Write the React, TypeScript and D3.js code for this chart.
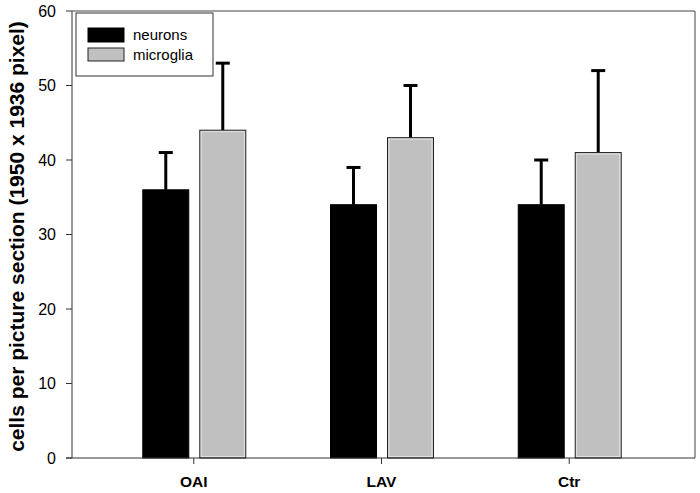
import React from "react";
import * as d3 from "d3";

const categories = ["OAI", "LAV", "Ctr"];
const neurons = [36, 34, 34];
const neuronsErr = [41, 39, 40];
const microglia = [44, 43, 41];
const microgliaErr = [53, 50, 52];
const yTicks = [0, 10, 20, 30, 40, 50, 60];
const seriesNames = ["neurons", "microglia"];

const W = 700, H = 493;
const left = 72, right = 695, top = 11, bottom = 458;

export default function App() {
  const x = d3.scalePoint<string>().domain(categories).range([left - 4, right]).padding(0.67);
  const y = d3.scaleLinear().domain([0, 60]).range([bottom, top]);
  const bw = 46;
  const font = "Arial, 'Liberation Sans', sans-serif";
  const series = [
    { name: seriesNames[0], vals: neurons, errs: neuronsErr, fill: "#000", stroke: "#000", off: -51 },
    { name: seriesNames[1], vals: microglia, errs: microgliaErr, fill: "#c0c0c0", stroke: "#222", off: 6 },
  ];
  return (
    <svg width={W} height={H} style={{ position: "absolute", left: 0, top: 0, background: "#fff" }} fontFamily={font}>
      {/* frame */}
      <line x1={left} x2={right} y1={top} y2={top} stroke="#444" strokeWidth={1} />
      <line x1={right} x2={right} y1={top} y2={bottom} stroke="#444" strokeWidth={1} />
      {series.map((s, si) =>
        categories.map((c, i) => {
          const cx = x(c)!;
          const x0 = cx + s.off;
          const mid = x0 + bw / 2;
          const h = bottom - y(s.vals[i]);
          return (
            <g key={si + "-" + i}>
              <line x1={mid} x2={mid} y1={y(s.vals[i])} y2={y(s.errs[i])} stroke="#000" strokeWidth={3} />
              <line x1={mid - 7} x2={mid + 7} y1={y(s.errs[i])} y2={y(s.errs[i])} stroke="#000" strokeWidth={3} />
              <rect x={x0} y={y(s.vals[i])} width={bw} height={h} fill={s.fill} stroke={s.stroke} strokeWidth={1} />
              {si === 1 && (
                <rect x={x0 + 1.5} y={y(s.vals[i]) + 1.5} width={bw - 3} height={h - 3} fill="none" stroke="#e2e2e2" strokeWidth={1} />
              )}
            </g>
          );
        })
      )}
      {/* axes */}
      <line x1={left} x2={left} y1={top} y2={bottom} stroke="#333" strokeWidth={1} />
      <line x1={left - 6} x2={right} y1={bottom} y2={bottom} stroke="#333" strokeWidth={1} />
      {yTicks.map((t) => (
        <g key={t}>
          <line x1={left - 6} x2={left} y1={y(t)} y2={y(t)} stroke="#333" />
          <text x={left - 16} y={y(t)} dy="0.35em" textAnchor="end" fontSize={16} fill="#000">{t}</text>
        </g>
      ))}
      {categories.map((c) => (
        <g key={c}>
          <line x1={x(c)!} x2={x(c)!} y1={bottom} y2={bottom + 6} stroke="#333" />
          <text x={x(c)!} y={487} textAnchor="middle" fontSize={15.5} fontWeight="bold" fill="#000">{c}</text>
        </g>
      ))}
      <text transform={`translate(24,${(top + bottom) / 2 + 2}) rotate(-90)`} textAnchor="middle" fontSize={21} fontWeight="bold" fill="#000">
        cells per picture section (1950 x 1936 pixel)
      </text>
      {/* legend */}
      <rect x={76} y={13} width={137} height={63} fill="#fff" stroke="#333" strokeWidth={1} />
      {series.map((s, i) => (
        <g key={s.name}>
          <rect x={88} y={28 + i * 20} width={36} height={i === 0 ? 14 : 13} fill={s.fill} stroke={s.stroke} />
          <text x={133} y={35 + i * 20} dy="0.35em" fontSize={15} fill="#000">{s.name}</text>
        </g>
      ))}
    </svg>
  );
}
